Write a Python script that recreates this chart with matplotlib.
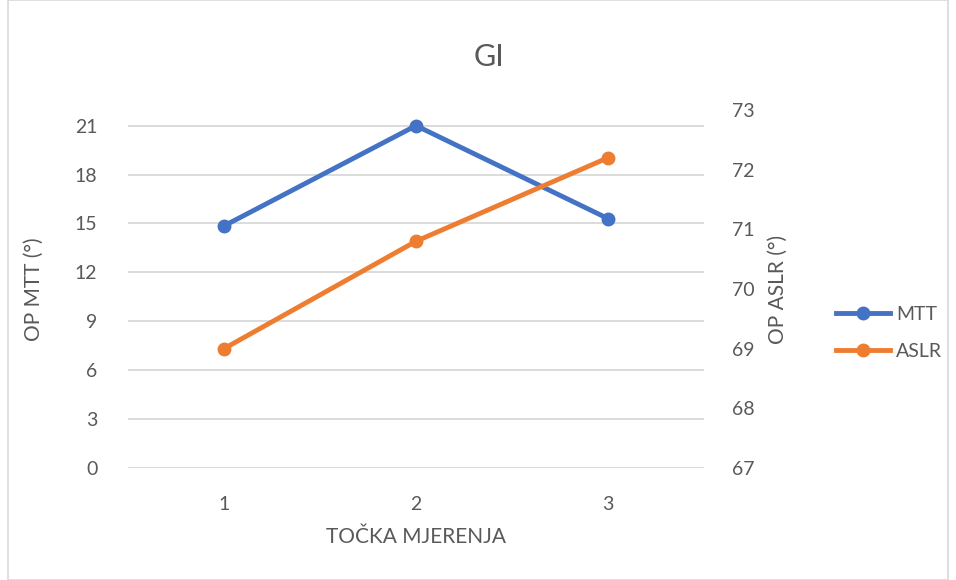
import matplotlib.pyplot as plt
from matplotlib.lines import Line2D
from matplotlib.patches import Rectangle

points = [1, 2, 3]
mtt = [14.85, 21.0, 15.3]
aslr = [69.0, 70.8, 72.2]

left_ticks = [0, 3, 6, 9, 12, 15, 18, 21]
right_ticks = [67, 68, 69, 70, 71, 72, 73]

blue = "#4472C4"
orange = "#ED7D31"
text_col = "#595959"
grid_col = "#D9D9D9"

plt.rcParams["font.family"] = ["Lato", "DejaVu Sans"]

fig = plt.figure(figsize=(9.56, 5.8), dpi=100)
# plot area in pixels: x 128..704, y 110..468
W, H = 956, 580
ax = fig.add_axes([128 / W, 1 - 468 / H, (704 - 128) / W, (468 - 110) / H])
ax2 = ax.twinx()

ax.set_xlim(0.5, 3.5)
ax.set_ylim(0, 21.96)
ax2.set_ylim(67, 73)

ax.set_yticks(left_ticks)
ax2.set_yticks(right_ticks)
ax.set_xticks(points)
ax.set_xticklabels([str(p) for p in points])

ax.yaxis.grid(True, color=grid_col, linewidth=1.3)
ax.set_axisbelow(True)
for a in (ax, ax2):
    for s in a.spines.values():
        s.set_visible(False)
    a.tick_params(length=0, labelsize=14, colors=text_col)
ax.tick_params(axis="y", pad=22)
ax.tick_params(axis="x", pad=20)
ax2.tick_params(axis="y", pad=20)

ax.plot(points, mtt, color=blue, linewidth=3.5, marker="o", markersize=9, zorder=3)
ax2.plot(points, aslr, color=orange, linewidth=3.5, marker="o", markersize=9, zorder=3)

ax.set_ylabel("OP MTT (°)", fontsize=15, color=text_col, labelpad=22)
ax2.set_ylabel("OP ASLR (°)", fontsize=15, color=text_col, labelpad=10)
ax.set_xlabel("TOČKA MJERENJA", fontsize=15, color=text_col, labelpad=10)

fig.text(489 / W, 1 - 57 / H, "GI", ha="center", va="center", fontsize=22, color=text_col)

handles = [
    Line2D([0], [0], color=blue, linewidth=3.5, marker="o", markersize=9),
    Line2D([0], [0], color=orange, linewidth=3.5, marker="o", markersize=9),
]
fig.legend(handles, ["MTT", "ASLR"], loc="center left",
           bbox_to_anchor=(818 / W, 1 - 333 / H), frameon=False,
           fontsize=14, labelcolor=text_col, handlelength=2.8,
           handletextpad=0.3, labelspacing=1.0)

fig.patches.append(Rectangle((8 / W, 0), (948 - 8) / W, 1, transform=fig.transFigure,
                             fill=False, edgecolor="#D9D9D9", linewidth=1.2))

fig.savefig("out.png", dpi=100)
